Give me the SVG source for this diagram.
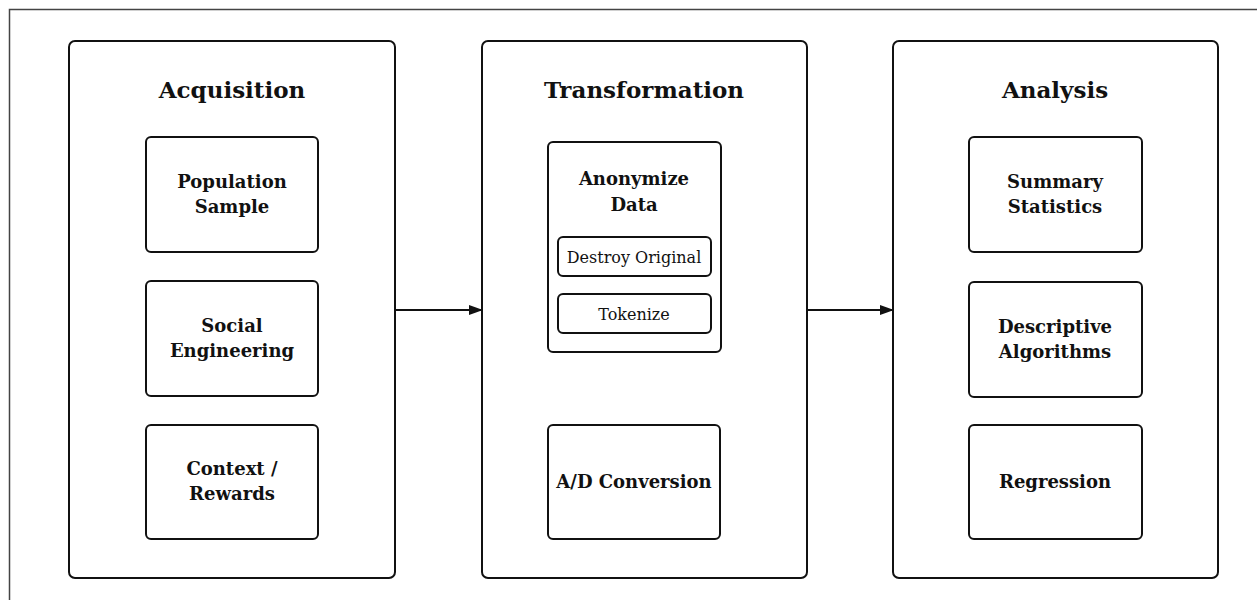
<svg xmlns="http://www.w3.org/2000/svg" width="1257" height="600" viewBox="0 0 1257 600">
<style>
.frame{fill:none;stroke:#444;stroke-width:1.5}
.panel{fill:#fff;stroke:#111;stroke-width:2}
.box{fill:#fff;stroke:#111;stroke-width:2}
.title{font-family:"DejaVu Serif",serif;font-weight:bold;font-size:23px;fill:#111;text-anchor:middle}
.lbl{font-family:"DejaVu Serif",serif;font-weight:bold;font-size:18px;fill:#111;text-anchor:middle}
.sub{font-family:"DejaVu Serif",serif;font-size:16px;fill:#111;text-anchor:middle}
.conn{stroke:#111;stroke-width:2;fill:none}
</style>
<defs>
<marker id="ah" markerWidth="14" markerHeight="10" refX="13" refY="5" orient="auto" markerUnits="userSpaceOnUse">
<path d="M0,0 L14,5 L0,10 Z" fill="#111"/>
</marker>
</defs>
<rect x="0" y="0" width="1257" height="600" fill="#fff"/>
<rect class="frame" x="9.5" y="9.5" width="1262" height="600"/>

<g id="acquisition">
<rect class="panel" x="69" y="41" width="326" height="537" rx="6"/>
<text class="title" x="232" y="98">Acquisition</text>
</g>
<g id="population-sample">
<rect class="box" x="146" y="137" width="172" height="115" rx="5"/>
<text class="lbl" x="232" y="188">Population</text>
<text class="lbl" x="232" y="213">Sample</text>
</g>
<g id="social-engineering">
<rect class="box" x="146" y="281" width="172" height="115" rx="5"/>
<text class="lbl" x="232" y="332">Social</text>
<text class="lbl" x="232" y="357">Engineering</text>
</g>
<g id="context-rewards">
<rect class="box" x="146" y="425" width="172" height="114" rx="5"/>
<text class="lbl" x="232" y="475">Context /</text>
<text class="lbl" x="232" y="500">Rewards</text>
</g>

<g id="transformation">
<rect class="panel" x="482" y="41" width="325" height="537" rx="6"/>
<text class="title" x="644" y="98">Transformation</text>
</g>
<g id="anonymize-data">
<rect class="box" x="548" y="142" width="173" height="210" rx="5"/>
<text class="lbl" x="634" y="185">Anonymize</text>
<text class="lbl" x="634" y="211">Data</text>
</g>
<g id="destroy-original">
<rect class="box" x="558" y="237" width="153" height="39" rx="5"/>
<text class="sub" x="634" y="263">Destroy Original</text>
</g>
<g id="tokenize">
<rect class="box" x="558" y="294" width="153" height="39" rx="5"/>
<text class="sub" x="634" y="320">Tokenize</text>
</g>
<g id="ad-conversion">
<rect class="box" x="548" y="425" width="172" height="114" rx="5"/>
<text class="lbl" x="634" y="488">A/D Conversion</text>
</g>

<g id="analysis">
<rect class="panel" x="893" y="41" width="325" height="537" rx="6"/>
<text class="title" x="1055" y="98">Analysis</text>
</g>
<g id="summary-statistics">
<rect class="box" x="969" y="137" width="173" height="115" rx="5"/>
<text class="lbl" x="1055" y="188">Summary</text>
<text class="lbl" x="1055" y="213">Statistics</text>
</g>
<g id="descriptive-algorithms">
<rect class="box" x="969" y="282" width="173" height="115" rx="5"/>
<text class="lbl" x="1055" y="333">Descriptive</text>
<text class="lbl" x="1055" y="358">Algorithms</text>
</g>
<g id="regression">
<rect class="box" x="969" y="425" width="173" height="114" rx="5"/>
<text class="lbl" x="1055" y="488">Regression</text>
</g>

<g id="connectors">
<line class="conn" x1="395" y1="310" x2="482" y2="310" marker-end="url(#ah)"/>
<line class="conn" x1="807" y1="310" x2="893" y2="310" marker-end="url(#ah)"/>
</g>
</svg>
